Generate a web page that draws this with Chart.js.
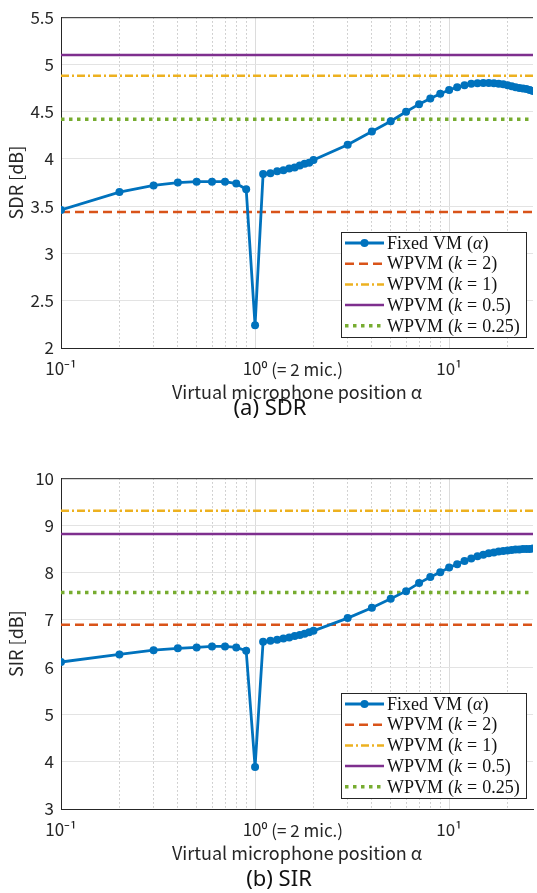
<!DOCTYPE html>
<html>
<head>
<meta charset="utf-8">
<script src="https://cdn.jsdelivr.net/npm/chart.js@4.4.0/dist/chart.umd.min.js"></script>
<style>
    html, body { margin: 0; padding: 0; background: #fff; overflow: hidden; }
    body { width: 537px; height: 893px; position: relative; }
    canvas { position: absolute; left: 0; }
    #sdrChart { top: 0; }
    #sirChart { top: 461px; }
    .caption {
        position: absolute;
        transform: translateX(-50%);
        white-space: nowrap;
        font-family: "Noto Sans", "Open Sans", sans-serif;
        font-size: 22px;
        color: #111;
    }
</style>
</head>
<body>
<canvas id="sdrChart" width="537" height="405"></canvas>
<canvas id="sirChart" width="537" height="405"></canvas>
<div class="caption" style="left:270px; top:391px;">(a) SDR</div>
<div class="caption" style="left:279px; top:862px;">(b) SIR</div>

<script>
// virtual microphone positions alpha
const alphaValues = [
    0.1, 0.2, 0.3, 0.4, 0.5, 0.6, 0.7, 0.8, 0.9, 1.0,
    1.1, 1.2, 1.3, 1.4, 1.5, 1.6, 1.7, 1.8, 1.9, 2.0,
    3, 4, 5, 6, 7, 8, 9, 10,
    11, 12, 13, 14, 15, 16, 17, 18, 19, 20,
    21, 22, 23, 24, 25, 26, 27, 28,
];

const sdrFixed = [
    3.46, 3.65, 3.72, 3.75, 3.76, 3.76, 3.76, 3.74, 3.68, 2.24,
    3.84, 3.85, 3.87, 3.88, 3.90, 3.91, 3.93, 3.95, 3.96, 3.99,
    4.15, 4.29, 4.40, 4.50, 4.58, 4.64, 4.69, 4.73,
    4.76, 4.78, 4.795, 4.80, 4.805, 4.805, 4.80, 4.795, 4.79, 4.78,
    4.77, 4.76, 4.75, 4.745, 4.74, 4.73, 4.72, 4.71,
];

const sirFixed = [
    6.11, 6.27, 6.36, 6.40, 6.42, 6.44, 6.44, 6.42, 6.35, 3.89,
    6.54, 6.56, 6.58, 6.61, 6.63, 6.66, 6.68, 6.71, 6.74, 6.77,
    7.04, 7.26, 7.45, 7.61, 7.78, 7.91, 8.01, 8.11,
    8.18, 8.25, 8.30, 8.35, 8.38, 8.41, 8.43, 8.45, 8.46, 8.47,
    8.48, 8.49, 8.49, 8.50, 8.50, 8.50, 8.51, 8.51,
];

// WPVM levels: k = 2, 1, 0.5, 0.25
const wpvmLabels = ["WPVM (k = 2)", "WPVM (k = 1)", "WPVM (k = 0.5)", "WPVM (k = 0.25)"];
const sdrWpvm = [3.44, 4.88, 5.10, 4.42];
const sirWpvm = [6.90, 9.31, 8.82, 7.58];

const xTickValues = [0.1, 0.2, 0.3, 0.4, 0.5, 0.6, 0.7, 0.8, 0.9, 1, 2, 3, 4, 5, 6, 7, 8, 9, 10, 20];
const xTickLabels = ["10⁻¹", "", "", "", "", "", "", "", "", "10⁰", "", "", "", "", "", "", "", "", "10¹", ""];
const xMajorTicks = [0.1, 1, 10];
const xOneNote = " (= 2 mic.)";

const sdrTicks = [2, 2.5, 3, 3.5, 4, 4.5, 5, 5.5];
const sirTicks = [3, 4, 5, 6, 7, 8, 9, 10];

const X_MIN = 0.1;
const X_MAX = 27.05;
const LINE_END = 100;

const BLUE = "#0072BD";
const RED = "#D95319";
const ORANGE = "#EDB120";
const PURPLE = "#7E2F8E";
const GREEN = "#77AC30";
const AXIS = "#262626";
const TEXT = "#262626";
const TICK_FONT = '"Noto Sans CJK JP", "Noto Sans", sans-serif';
const TICK_SIZE = 17;
const LEGEND_FONT = '"Liberation Serif", "DejaVu Serif", serif';

const wpvmStyles = [
    { color: RED, dash: [9, 5], width: 2.5 },
    { color: ORANGE, dash: [8, 3, 2, 3], width: 2.5 },
    { color: PURPLE, dash: [], width: 2.5 },
    { color: GREEN, dash: [3.5, 4.5], width: 3.6 },
];

function hline(label, value, style) {
    return {
        label: label,
        data: [{ x: X_MIN, y: value }, { x: LINE_END, y: value }],
        borderColor: style.color,
        backgroundColor: style.color,
        borderWidth: style.width,
        borderDash: style.dash,
        borderCapStyle: "butt",
        pointRadius: 0,
        pointHoverRadius: 0,
    };
}

function buildDatasets(fixed, wpvm) {
    const sets = [{
        label: "Fixed VM (α)",
        data: alphaValues.map((a, i) => ({ x: a, y: fixed[i] })),
        borderColor: BLUE,
        backgroundColor: BLUE,
        borderWidth: 2.8,
        pointRadius: 4,
        pointBorderWidth: 0,
        pointHoverRadius: 4,
    }];
    wpvm.forEach((v, i) => sets.push(hline(wpvmLabels[i], v, wpvmStyles[i])));
    return sets;
}

// draws text, with k and alpha in italics like the LaTeX legend
function drawMathLabel(ctx, text, x, y) {
    let cx = x;
    for (const ch of text) {
        const italic = ch === "k" || ch === "α";
        ctx.font = (italic ? "italic " : "") + "18px " + LEGEND_FONT;
        ctx.fillText(ch, cx, y);
        cx += ctx.measureText(ch).width + (ch === " " ? 0.5 : 0);
    }
}

const boxPlugin = {
    id: "boxPlugin",
    afterDatasetsDraw(chart) {
        const { ctx, chartArea } = chart;
        ctx.save();
        ctx.strokeStyle = AXIS;
        ctx.lineWidth = 1;
        ctx.beginPath();
        ctx.moveTo(chartArea.left, chartArea.top + 0.5);
        ctx.lineTo(chartArea.right, chartArea.top + 0.5);
        ctx.stroke();
        ctx.restore();
    },
    afterDraw(chart) {
        const { ctx, chartArea } = chart;
        const w = 185, h = 105;
        const x0 = Math.round(chartArea.right - 7 - w);
        const y0 = Math.round(chartArea.bottom - 11 - h);
        ctx.save();
        ctx.fillStyle = "#fff";
        ctx.fillRect(x0, y0, w, h);
        ctx.strokeStyle = AXIS;
        ctx.lineWidth = 1;
        ctx.strokeRect(x0 + 0.5, y0 + 0.5, w, h);
        chart.data.datasets.forEach((ds, i) => {
            const y = y0 + 11 + i * 20.7;
            ctx.strokeStyle = ds.borderColor;
            ctx.lineWidth = ds.borderWidth;
            ctx.lineCap = "butt";
            ctx.setLineDash(ds.borderDash || []);
            ctx.beginPath();
            ctx.moveTo(x0 + 4, y);
            ctx.lineTo(x0 + 43, y);
            ctx.stroke();
            ctx.setLineDash([]);
            if (ds.pointRadius) {
                ctx.fillStyle = ds.borderColor;
                ctx.beginPath();
                ctx.arc(x0 + 23.5, y, ds.pointRadius, 0, Math.PI * 2);
                ctx.fill();
            }
            ctx.fillStyle = "#111";
            ctx.textBaseline = "middle";
            drawMathLabel(ctx, ds.label, x0 + 46, y + 1);
        });

        // "(= 2 mic.)" note after the 10^0 tick label
        const xs = chart.scales.x;
        ctx.font = TICK_SIZE + "px " + TICK_FONT;
        const head = ctx.measureText(xTickLabels[xTickValues.indexOf(1)]).width;
        ctx.fillStyle = TEXT;
        ctx.textBaseline = "middle";
        ctx.textAlign = "left";
        ctx.fillText(xOneNote, xs.getPixelForValue(1) + head / 2, xs.top + 11 + TICK_SIZE * 0.6);
        ctx.restore();
    },
};

function makeChart(canvasId, fixed, wpvm, yMin, yMax, yTicks, yTitle) {
    const ctx = document.getElementById(canvasId).getContext("2d");
    return new Chart(ctx, {
        type: "line",
        data: { datasets: buildDatasets(fixed, wpvm) },
        options: {
            responsive: false,
            animation: false,
            devicePixelRatio: 1,
            layout: { padding: { top: 12, right: 0, bottom: 0, left: 0 } },
            plugins: {
                legend: { display: false },
                tooltip: { enabled: false },
            },
            scales: {
                x: {
                    type: "logarithmic",
                    min: X_MIN,
                    max: X_MAX,
                    afterBuildTicks: (s) => {
                        s.ticks = xTickValues.map(v => ({ value: v, major: xMajorTicks.includes(v) }));
                    },
                    afterFit: (s) => { s.height = 57; },
                    ticks: {
                        autoSkip: false,
                        maxRotation: 0,
                        padding: 10,
                        color: TEXT,
                        font: { family: TICK_FONT, size: TICK_SIZE },
                        callback: (v, i) => xTickLabels[i],
                    },
                    grid: {
                        drawTicks: false,
                        lineWidth: 1,
                        color: (c) => (c.tick && xMajorTicks.includes(c.tick.value)) ? "#dcdcdc" : "#c4c4c4",
                    },
                    border: {
                        color: AXIS,
                        width: 1,
                        dash: (c) => (c.type === "tick" && c.tick && !xMajorTicks.includes(c.tick.value)) ? [1.5, 2.5] : [],
                    },
                    title: {
                        display: true,
                        text: "Virtual microphone position α",
                        color: TEXT,
                        font: { family: TICK_FONT, size: 18 },
                        padding: { top: 0, bottom: 2 },
                    },
                },
                y: {
                    type: "linear",
                    min: yMin,
                    max: yMax,
                    afterBuildTicks: (s) => {
                        s.ticks = yTicks.map(v => ({ value: v }));
                    },
                    afterFit: (s) => { s.width = 61; },
                    ticks: {
                        padding: 7,
                        color: TEXT,
                        font: { family: TICK_FONT, size: TICK_SIZE },
                        callback: (v) => String(v),
                    },
                    grid: {
                        drawTicks: false,
                        lineWidth: 1,
                        color: "#e3e3e3",
                    },
                    border: { color: AXIS, width: 1 },
                    title: {
                        display: true,
                        text: yTitle,
                        color: TEXT,
                        font: { family: TICK_FONT, size: 18 },
                        padding: { top: 5, bottom: 0 },
                    },
                },
            },
        },
        plugins: [boxPlugin],
    });
}

makeChart("sdrChart", sdrFixed, sdrWpvm, 2, 5.5, sdrTicks, "SDR [dB]");
makeChart("sirChart", sirFixed, sirWpvm, 3, 10, sirTicks, "SIR [dB]");
</script>
</body>
</html>
